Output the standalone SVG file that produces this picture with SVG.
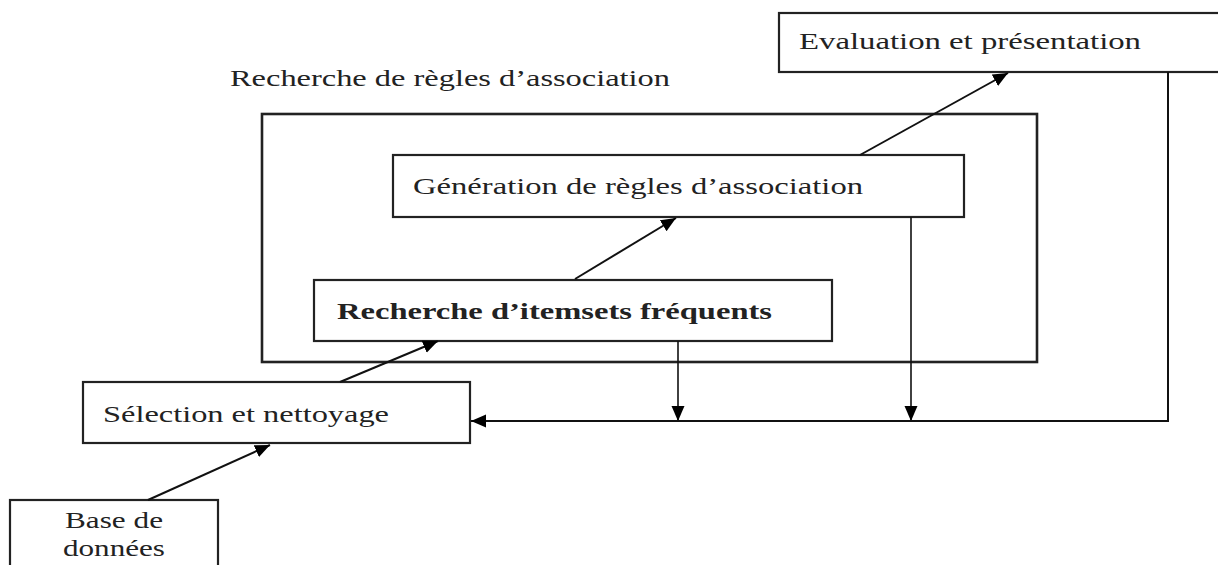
<svg xmlns="http://www.w3.org/2000/svg" width="1218" height="565" viewBox="0 0 1218 565">
<style>
.box{fill:#fff;stroke:#222;stroke-width:2.2}
.t{font-family:"Liberation Serif",serif;font-size:24px;fill:#222}
.b{font-weight:bold}
.c{fill:none;stroke:#111;stroke-width:2}
.v{fill:none;stroke:#111;stroke-width:1.6}
</style>
<defs>
<marker id="ah" markerUnits="userSpaceOnUse" markerWidth="18" markerHeight="14" refX="15" refY="6.5" orient="auto">
<path d="M0,0 L15,6.5 L0,13 Z" fill="#000"/>
</marker>
</defs>
<g id="outer">
<rect x="262" y="114" width="775" height="248" fill="none" stroke="#222" stroke-width="2.6"/>
<text class="t" x="230" y="86" textLength="440" lengthAdjust="spacingAndGlyphs">Recherche de règles d’association</text>
</g>
<g id="evaluation">
<rect class="box" x="779" y="13" width="450" height="59"/>
<text class="t" x="799" y="49" textLength="342" lengthAdjust="spacingAndGlyphs">Evaluation et présentation</text>
</g>
<g id="generation">
<rect class="box" x="393" y="155" width="571" height="62"/>
<text class="t" x="413" y="194" textLength="450" lengthAdjust="spacingAndGlyphs">Génération de règles d’association</text>
</g>
<g id="itemsets">
<rect class="box" x="314" y="280" width="518" height="61"/>
<text class="t b" x="337" y="319" textLength="435" lengthAdjust="spacingAndGlyphs">Recherche d’itemsets fréquents</text>
</g>
<g id="selection">
<rect class="box" x="83" y="382" width="387" height="61"/>
<text class="t" x="103" y="422" textLength="286" lengthAdjust="spacingAndGlyphs">Sélection et nettoyage</text>
</g>
<g id="base">
<rect class="box" x="10" y="500" width="208" height="80"/>
<text class="t" x="65" y="528" textLength="98" lengthAdjust="spacingAndGlyphs">Base de</text>
<text class="t" x="63" y="556" textLength="102" lengthAdjust="spacingAndGlyphs">données</text>
</g>
<g id="connectors">
<line class="c" x1="148" y1="500" x2="270" y2="445" marker-end="url(#ah)"/>
<line class="c" x1="340" y1="382" x2="438" y2="341" marker-end="url(#ah)"/>
<line class="c" x1="575" y1="279" x2="676" y2="218" marker-end="url(#ah)"/>
<line class="c" x1="860" y1="155" x2="1008" y2="73" marker-end="url(#ah)"/>
<line class="v" x1="678" y1="341" x2="678" y2="421" marker-end="url(#ah)"/>
<line class="v" x1="911" y1="217" x2="911" y2="421" marker-end="url(#ah)"/>
<polyline class="c" points="1168,72 1168,421 471,421" marker-end="url(#ah)"/>
</g>
</svg>
